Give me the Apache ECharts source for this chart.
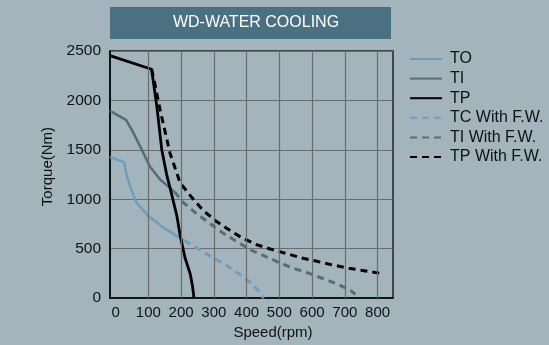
<!DOCTYPE html>
<html>
<head>
<meta charset="utf-8">
<script src="https://cdn.jsdelivr.net/npm/echarts@6/dist/echarts.min.js"></script>
<style>
html,body{margin:0;padding:0;background:#a4b4bc;}
#c{width:549px;height:345px;}
</style>
</head>
<body>
<div id="c"></div>
<script>
var chartTitle = 'WD-WATER COOLING';
var xTickLabels = [0, 100, 200, 300, 400, 500, 600, 700, 800];
var xGridValues = [100, 200, 300, 400, 500, 600, 700, 800];
var yTickLabels = [0, 500, 1000, 1500, 2000, 2500];
var seriesNames = ['TO', 'TI', 'TP', 'TC With F.W.', 'TI With F.W.', 'TP With F.W.'];

var TO = [[-17,1428],[26,1376],[32,1267],[44,1132],[64,965],[100,830],[146,713],[166,672],[210,582]];
var TI = [[-17,1895],[32,1804],[50,1700],[75,1535],[105,1330],[136,1200],[160,1130],[180,1075]];
var TP = [[-17,2453],[110,2315],[117,2150],[126,1939],[141,1502],[156,1250],[166,1120],[187,835],[197,638],[212,408],[228,244],[235,120],[238,40],[239,0]];
var TC_FW = [[210,582],[248,507],[289,425],[335,336],[370,263],[411,158],[435,80],[452,0]];
var TI_FW = [[180,1075],[207,967],[248,852],[289,753],[329,655],[370,573],[411,490],[462,415],[503,355],[539,306],[585,257],[631,201],[677,142],[718,76],[732,38]];
var TP_FW = [[110,2315],[118,2200],[136,1905],[166,1469],[197,1166],[233,1017],[268,885],[304,786],[340,704],[385,612],[431,540],[472,497],[518,454],[569,405],[615,372],[661,336],[712,303],[758,277],[810,250],[820,246]];

var cBlue = '#6e9ebd', cGray = '#566e75', cBlack = '#000000';
var gridColor = '#6c6c6c';
var fontFam = '"Liberation Sans", Arial, sans-serif';

function line(name, data, color, dashed, width) {
  return {
    name: name, type: 'line', data: data, symbol: 'none', smooth: false,
    lineStyle: {color: color, width: width, type: dashed ? [7, 5] : 'solid', cap: 'butt', join: 'round'},
    itemStyle: {color: color},
    z: dashed ? 3 : 4
  };
}

var chart = echarts.init(document.getElementById('c'), null, {renderer: 'canvas'});
chart.setOption({
  backgroundColor: '#a4b4bc',
  animation: false,
  textStyle: {fontFamily: fontFam},
  graphic: [
    {type: 'rect', shape: {x: 110, y: 7, width: 281, height: 32}, style: {fill: '#4b7081'}, z: 10},
    {type: 'text', x: 256, y: 23, style: {text: chartTitle, fill: '#ffffff', font: '16px ' + fontFam, textAlign: 'center', textVerticalAlign: 'middle'}, z: 11}
  ],
  grid: {left: 110, top: 51, right: 156, bottom: 46, show: true, borderColor: '#222', borderWidth: 1.5, backgroundColor: 'transparent'},
  legend: {
    orient: 'vertical', left: 409, top: 51, padding: 0, itemWidth: 32, itemHeight: 15, itemGap: 3.6,
    itemStyle: {opacity: 0},
    textStyle: {fontSize: 16, color: '#111', fontFamily: fontFam, padding: [0, 0, 0, 3]},
    data: seriesNames
  },
  xAxis: {
    type: 'value', min: -17, max: 847,
    name: 'Speed(rpm)', nameLocation: 'middle', nameGap: 26,
    nameTextStyle: {fontSize: 15, color: '#111', padding: [0, 0, 0, 43]},
    axisLine: {show: true, onZero: false, lineStyle: {color: '#000', width: 1.5}},
    axisTick: {show: false, customValues: xTickLabels},
    axisLabel: {customValues: xTickLabels, fontSize: 15, color: '#111', margin: 7},
    splitLine: {show: false}
  },
  yAxis: {
    type: 'value', min: 0, max: 2500, interval: 500,
    name: 'Torque(Nm)', nameLocation: 'middle', nameGap: 46,
    nameTextStyle: {fontSize: 15, color: '#111', padding: [0, 0, 0, 16]},
    axisLine: {show: true, onZero: false, lineStyle: {color: '#000', width: 1.5}},
    axisTick: {show: false},
    axisLabel: {fontSize: 15.5, color: '#111', margin: 9, formatter: function (v) { return String(v); }},
    splitLine: {show: true, lineStyle: {color: gridColor, width: 1.2}}
  },
  series: [
    {
      name: 'grid', type: 'line', data: [], z: 1, silent: true,
      markLine: {
        silent: true, symbol: ['none', 'none'], label: {show: false},
        lineStyle: {color: gridColor, width: 1.2, type: 'solid'},
        emphasis: {disabled: true},
        data: xGridValues.map(function (v) { return {xAxis: v}; })
      }
    },
    line(seriesNames[0], TO, cBlue, false, 2.5),
    line(seriesNames[1], TI, cGray, false, 2.5),
    line(seriesNames[2], TP, cBlack, false, 2.8),
    line(seriesNames[3], TC_FW, cBlue, true, 3),
    line(seriesNames[4], TI_FW, cGray, true, 3),
    line(seriesNames[5], TP_FW, cBlack, true, 3)
  ]
});
</script>
</body>
</html>
